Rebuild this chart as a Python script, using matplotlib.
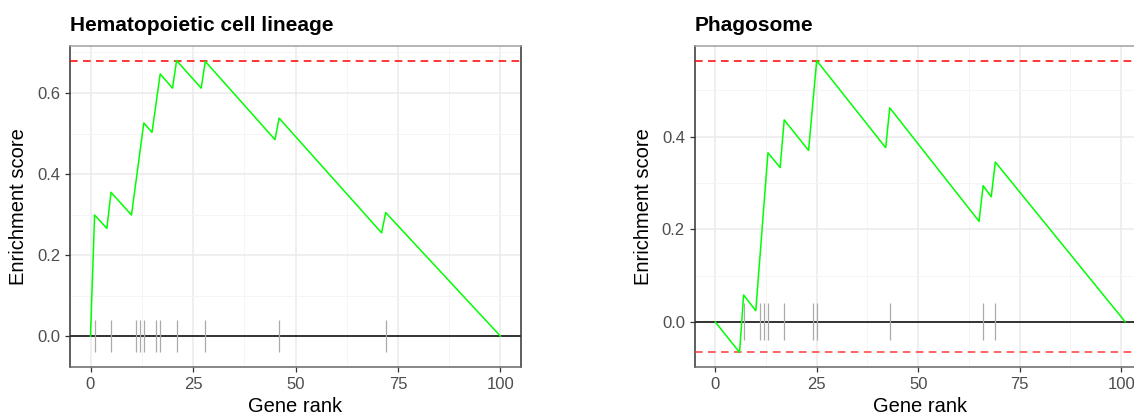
import matplotlib
matplotlib.use("Agg")
import matplotlib.pyplot as plt
from matplotlib.ticker import MultipleLocator
import numpy as np

plt.rcParams['font.family'] = ['Liberation Sans', 'DejaVu Sans']

# running enrichment score, vertices
hema_rank = [0, 1, 4, 5, 10, 13, 15, 17, 20, 21, 27, 28, 45, 46, 71, 72, 100]
hema_es = [0.0, 0.299, 0.266, 0.355, 0.299, 0.526, 0.503, 0.647, 0.612, 0.680,
           0.612, 0.678, 0.485, 0.538, 0.255, 0.305, 0.0]
hema_hits = [1, 5, 11, 12, 13, 16, 17, 21, 28, 46, 72]

phago_rank = [0, 6, 7, 10, 13, 16, 17, 23, 25, 42, 43, 65, 66, 68, 69, 101]
phago_es = [0.0, -0.066, 0.058, 0.024, 0.365, 0.333, 0.436, 0.370, 0.564,
            0.376, 0.462, 0.217, 0.294, 0.270, 0.345, 0.0]
phago_hits = [7, 11, 12, 13, 17, 24, 25, 43, 66, 69]

W, H = 1134, 417
fig = plt.figure(figsize=(W / 100, H / 100), dpi=100)


def panel(x0, width, title, rank, es, hits, ystep):
    ax = fig.add_axes([x0 / W, (H - 367) / H, width / W, (367 - 46) / H])
    rank = np.asarray(rank)
    es = np.asarray(es)
    # ggplot-like 5% expansion
    xr = rank.max() - rank.min()
    ax.set_xlim(rank.min() - 0.05 * xr, rank.max() + 0.05 * xr)
    ylo, yhi = min(es.min(), -0.04), max(es.max(), 0.04)
    yr = yhi - ylo
    ax.set_ylim(ylo - 0.05 * yr, yhi + 0.05 * yr)

    ax.xaxis.set_major_locator(MultipleLocator(25))
    ax.xaxis.set_minor_locator(MultipleLocator(12.5))
    ax.yaxis.set_major_locator(MultipleLocator(ystep))
    ax.yaxis.set_minor_locator(MultipleLocator(ystep / 2))
    ax.grid(True, which='major', color='#ebebeb', lw=1.1)
    ax.grid(True, which='minor', color='#f4f4f4', lw=0.6)
    ax.set_axisbelow(True)

    ax.axhline(0, color='black', lw=1.1, zorder=2)
    ax.axhline(es.max(), color='#ff0000', lw=1.1, dashes=(5, 3.5), zorder=3)
    if es.min() < 0:
        ax.axhline(es.min(), color='#ff3b3b', lw=1.1, dashes=(5, 3.5), zorder=3)
    ax.vlines(hits, -0.04, 0.04, color='#aaaaaa', lw=0.9, zorder=2)
    ax.plot(rank, es, color='#00ff00', lw=1.1, zorder=4)

    ax.spines['top'].set_color('#a0a0a0')
    ax.spines['bottom'].set_color('#666666')
    ax.spines['left'].set_color('#333333')
    ax.spines['right'].set_color('#333333')
    for s in ax.spines.values():
        s.set_linewidth(1.1)

    ax.tick_params(which='major', length=3.5, width=0.9, color='#333333',
                   labelsize=12, labelcolor='#4d4d4d', pad=3.5)
    ax.tick_params(which='minor', length=0)
    ax.yaxis.set_major_formatter(lambda v, p: f"{v:.1f}")

    ax.set_ylabel("Enrichment score", fontsize=14.5, color='black')
    ax.yaxis.set_label_coords(-42 / width, 0.5)
    ax.set_xlabel("Gene rank", fontsize=14.5, color='black', va='center')
    ax.xaxis.set_label_coords(0.5, -39 / 321)
    ax.set_title(title, loc='left', fontsize=15, fontweight='bold', pad=11)
    return ax


panel(70, 451, "Hematopoietic cell lineage", hema_rank, hema_es, hema_hits, 0.2)
panel(694.7, 451, "Phagosome", phago_rank, phago_es, phago_hits, 0.2)

fig.savefig("out.png", dpi=100)
